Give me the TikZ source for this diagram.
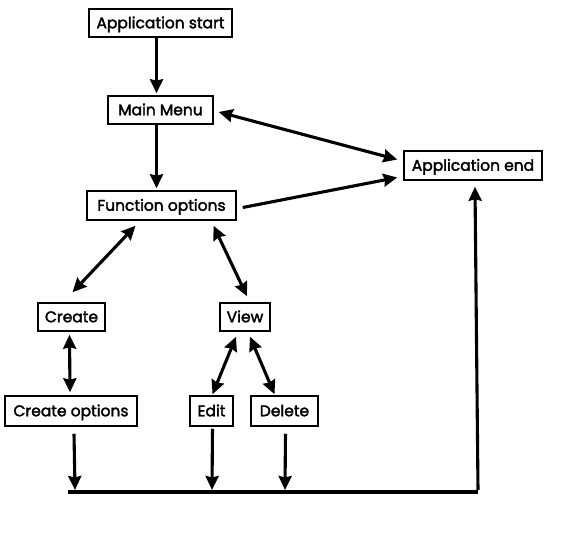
\documentclass[tikz,border=0pt]{standalone}
\usepackage{fontspec}
\setmainfont{Poppins}[FakeBold=2.2]
\usetikzlibrary{calc,arrows.meta}
\begin{document}
\begin{tikzpicture}[x=1pt,y=-1pt,
  box/.style={draw,line width=1.5pt,inner sep=0pt,minimum height=28pt,text height=11pt,text depth=0.5pt,font=\fontsize{15.5}{17}\selectfont},
  conn/.style={line width=3.1pt,-{Stealth[length=14pt,width=13pt,inset=1.5pt]}},
  biconn/.style={line width=3.1pt,{Stealth[length=14pt,width=13pt,inset=1.5pt]}-{Stealth[length=14pt,width=13pt,inset=1.5pt]}},
  plainline/.style={line width=3.1pt}]
\useasboundingbox (0,0) rectangle (563,538);
\node[box,minimum width=143pt] (start) at (160.5,23) {Application start};
\node[box,minimum width=105pt] (menu) at (160.5,110) {Main Menu};
\node[box,minimum width=149pt,minimum height=29pt] (func) at (161.5,205.5) {Function options};
\node[box,minimum width=138pt,minimum height=29pt] (end) at (473,165.5) {Application end};
\node[box,minimum width=67pt] (create) at (71.5,317) {Create};
\node[box,minimum width=50pt] (view) at (245,317) {View};
\node[box,minimum width=132pt,minimum height=30pt] (copt) at (71,411) {Create options};
\node[box,minimum width=43pt,minimum height=30pt] (edit) at (211.5,411) {Edit};
\node[box,minimum width=67pt,minimum height=30pt] (del) at (284.5,411) {Delete};
\coordinate (b1) at (75,490);
\coordinate (b2) at (212,490);
\coordinate (b3) at (285,490);
\coordinate (bl) at (68,492);
\coordinate (br) at (478,492);
\coordinate (bu) at (478,490);
\draw[conn] ($(start.south)+(-4,0)$) -- ($(menu.north)+(-4,-2)$);
\draw[conn] ($(menu.south)+(-4,0)$) -- ($(func.north)+(-5,-2)$);
\draw[biconn] ($(menu.east)+(5,2)$) -- ($(end.west)+(-6,-6)$);
\draw[conn] ($(func.east)+(6,2)$) -- ($(end.west)+(-6,12)$);
\draw[biconn] ($(func.south)+(-26,5)$) -- ($(create.north)+(1,-10)$);
\draw[biconn] ($(func.south)+(52,5)$) -- ($(view.north)+(2,-6)$);
\draw[biconn] ($(create.south)+(-2,3)$) -- ($(copt.north)+(-1,-3)$);
\draw[biconn] ($(view.south)+(-9,5)$) -- ($(edit.north)+(1,-1)$);
\draw[biconn] ($(view.south)+(5,5)$) -- ($(del.north)+(-10,-1)$);
\draw[conn] ($(copt.south)+(3,7)$) -- (b1);
\draw[conn] ($(edit.south)+(1,2)$) -- (b2);
\draw[conn] ($(del.south)+(1,7)$) -- (b3);
\draw[plainline] (bl) -- (br);
\draw[conn] (bu) -- ($(end.south)+(2,6)$);
\end{tikzpicture}
\end{document}
